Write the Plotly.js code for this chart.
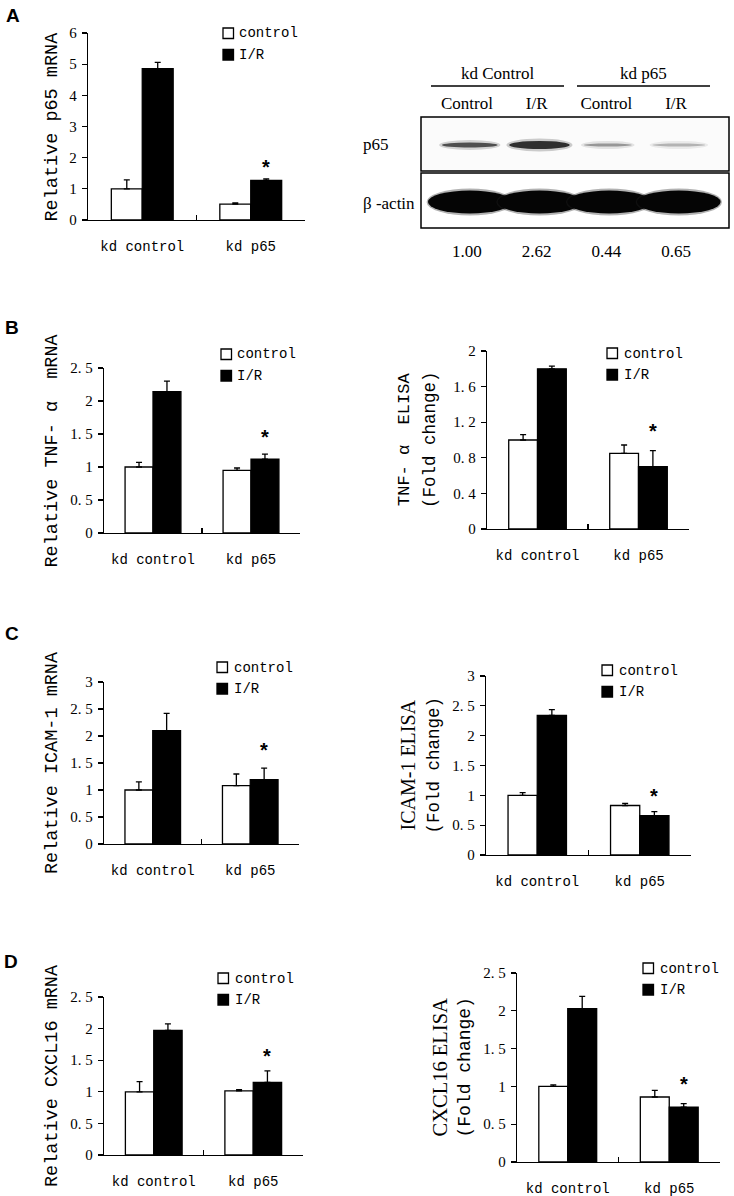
<!DOCTYPE html>
<html><head><meta charset="utf-8">
<script src="https://cdn.plot.ly/plotly-3.0.1.min.js"></script>
<style>html,body{margin:0;padding:0;background:#fff}#chart{width:734px;height:1196px}</style>
</head><body><div id="chart"></div>
<script>
// ---------------- DATA ----------------
const categories = ['kd control', 'kd p65'];
const seriesNames = ['control', 'I/R'];

// A: relative p65 mRNA
const p65mRNA_control = [1.00, 0.51];
const p65mRNA_controlErr = [0.29, 0.04];
const p65mRNA_IR = [4.86, 1.27];
const p65mRNA_IRErr = [0.20, 0.05];
const p65mRNA_star = 1.82;
const ticksA = [0, 1, 2, 3, 4, 5, 6];
const tickLabelsA = ['0', '1', '2', '3', '4', '5', '6'];

// B left: relative TNF-α mRNA
const tnfMRNA_control = [1.00, 0.95];
const tnfMRNA_controlErr = [0.07, 0.035];
const tnfMRNA_IR = [2.14, 1.12];
const tnfMRNA_IRErr = [0.16, 0.075];
const tnfMRNA_star = 1.52;
const ticksBL = [0, 0.5, 1, 1.5, 2, 2.5];
const tickLabelsBL = ['0', '0. 5', '1', '1. 5', '2', '2. 5'];

// B right: TNF-α ELISA
const tnfELISA_control = [1.00, 0.85];
const tnfELISA_controlErr = [0.06, 0.094];
const tnfELISA_IR = [1.80, 0.70];
const tnfELISA_IRErr = [0.03, 0.18];
const tnfELISA_star = 1.15;
const ticksBR = [0, 0.4, 0.8, 1.2, 1.6, 2];
const tickLabelsBR = ['0', '0. 4', '0. 8', '1. 2', '1. 6', '2'];

// C left: relative ICAM-1 mRNA
const icamMRNA_control = [1.00, 1.08];
const icamMRNA_controlErr = [0.15, 0.216];
const icamMRNA_IR = [2.10, 1.19];
const icamMRNA_IRErr = [0.32, 0.216];
const icamMRNA_star = 1.81;
const ticksCL = [0, 0.5, 1, 1.5, 2, 2.5, 3];
const tickLabelsCL = ['0', '0. 5', '1', '1. 5', '2', '2. 5', '3'];

// C right: ICAM-1 ELISA
const icamELISA_control = [1.00, 0.83];
const icamELISA_controlErr = [0.045, 0.034];
const icamELISA_IR = [2.34, 0.66];
const icamELISA_IRErr = [0.095, 0.067];
const icamELISA_star = 1.06;
const ticksCR = [0, 0.5, 1, 1.5, 2, 2.5, 3];
const tickLabelsCR = ['0', '0. 5', '1', '1. 5', '2', '2. 5', '3'];

// D left: relative CXCL16 mRNA
const cxclMRNA_control = [1.00, 1.015];
const cxclMRNA_controlErr = [0.16, 0.02];
const cxclMRNA_IR = [1.97, 1.15];
const cxclMRNA_IRErr = [0.105, 0.18];
const cxclMRNA_star = 1.63;
const ticksDL = [0, 0.5, 1, 1.5, 2, 2.5];
const tickLabelsDL = ['0', '0. 5', '1', '1. 5', '2', '2. 5'];

// D right: CXCL16 ELISA
const cxclELISA_control = [1.00, 0.86];
const cxclELISA_controlErr = [0.02, 0.088];
const cxclELISA_IR = [2.03, 0.727];
const cxclELISA_IRErr = [0.16, 0.044];
const cxclELISA_star = 1.08;
const ticksDR = [0, 0.5, 1, 1.5, 2, 2.5];
const tickLabelsDR = ['0', '0. 5', '1', '1. 5', '2', '2. 5'];

// Western blot (panel A right)
const blotGroups = ['kd Control', 'kd p65'];
const blotLanes = ['Control', 'I/R', 'Control', 'I/R'];
const blotRows = ['p65', 'β -actin'];
const p65Densitometry = [1.00, 2.62, 0.44, 0.65];

// ---------------- LAYOUT HELPERS ----------------
const W = 734, H = 1196;
const fx = p => p / W;
const fy = p => 1 - p / H;
const MONO = 'Liberation Mono, DejaVu Sans Mono, monospace';
const SERIF = 'Liberation Serif, DejaVu Serif, serif';
const SANS = 'Liberation Sans, Arial, sans-serif';
const BAR_W = 0.285;

const panels = [
  {box: [88, 305, 33, 220], ymax: 6, tv: ticksA, tt: tickLabelsA,
   c: p65mRNA_control, ce: p65mRNA_controlErr, r: p65mRNA_IR, re: p65mRNA_IRErr, star: p65mRNA_star,
   titles: [{text: 'Relative p65 mRNA', x: 52, family: MONO, size: 18.5}],
   leg: [223, 28, 237]},
  {box: [104, 300, 368, 533], ymax: 2.5, tv: ticksBL, tt: tickLabelsBL,
   c: tnfMRNA_control, ce: tnfMRNA_controlErr, r: tnfMRNA_IR, re: tnfMRNA_IRErr, star: tnfMRNA_star,
   titles: [{text: 'Relative TNF- α  mRNA', x: 52, family: MONO, size: 18.5}],
   leg: [221, 349, 235]},
  {box: [487, 689, 351, 529], ymax: 2, tv: ticksBR, tt: tickLabelsBR,
   c: tnfELISA_control, ce: tnfELISA_controlErr, r: tnfELISA_IR, re: tnfELISA_IRErr, star: tnfELISA_star,
   titles: [{text: 'TNF- α  ELISA', x: 404, family: MONO, size: 17},
            {text: '(Fold change)', x: 430, family: MONO, size: 17.5}],
   leg: [607, 348, 622]},
  {box: [104, 299, 682, 844], ymax: 3, tv: ticksCL, tt: tickLabelsCL,
   c: icamMRNA_control, ce: icamMRNA_controlErr, r: icamMRNA_IR, re: icamMRNA_IRErr, star: icamMRNA_star,
   titles: [{text: 'Relative ICAM-1 mRNA', x: 52, family: MONO, size: 18.5}],
   leg: [217, 662, 232]},
  {box: [486, 691, 676, 855], ymax: 3, tv: ticksCR, tt: tickLabelsCR,
   c: icamELISA_control, ce: icamELISA_controlErr, r: icamELISA_IR, re: icamELISA_IRErr, star: icamELISA_star,
   titles: [{text: 'ICAM-1 ELISA', x: 407, family: SERIF, size: 20},
            {text: '(Fold change)', x: 433, family: MONO, size: 17.5}],
   leg: [602, 665, 617]},
  {box: [104, 303, 997, 1155], ymax: 2.5, tv: ticksDL, tt: tickLabelsDL,
   c: cxclMRNA_control, ce: cxclMRNA_controlErr, r: cxclMRNA_IR, re: cxclMRNA_IRErr, star: cxclMRNA_star,
   titles: [{text: 'Relative CXCL16 mRNA', x: 52, family: MONO, size: 18.5}],
   leg: [218, 973, 233]},
  {box: [517, 720, 973, 1162], ymax: 2.5, tv: ticksDR, tt: tickLabelsDR,
   c: cxclELISA_control, ce: cxclELISA_controlErr, r: cxclELISA_IR, re: cxclELISA_IRErr, star: cxclELISA_star,
   titles: [{text: 'CXCL16 ELISA', x: 439, family: SERIF, size: 20.5},
            {text: '(Fold change)', x: 464, family: MONO, size: 18}],
   leg: [643, 963, 658]}
];

const traces = [];
const layout = {
  width: W, height: H,
  margin: {l: 0, r: 0, t: 0, b: 0},
  paper_bgcolor: '#fff', plot_bgcolor: 'rgba(0,0,0,0)',
  showlegend: false, barmode: 'overlay',
  annotations: [], shapes: [],
  font: {family: MONO, color: '#000'}
};

panels.forEach((p, i) => {
  const n = i + 1;
  const xs = n === 1 ? '' : String(n);
  const xref = 'x' + xs, yref = 'y' + xs;
  const [l, r, t, b] = p.box;
  const errStyle = {type: 'data', symmetric: false, color: '#000', thickness: 1.3, width: 3};
  traces.push({
    type: 'bar', name: seriesNames[0], x: categories, y: p.c, xaxis: xref, yaxis: yref,
    width: BAR_W, offset: -BAR_W,
    marker: {color: '#ffffff', line: {color: '#000', width: 1.3}},
    error_y: Object.assign({array: p.ce, arrayminus: p.ce.map(() => 0)}, errStyle),
    hoverinfo: 'y'
  });
  traces.push({
    type: 'bar', name: seriesNames[1], x: categories, y: p.r, xaxis: xref, yaxis: yref,
    width: BAR_W, offset: 0,
    marker: {color: '#000000', line: {color: '#000', width: 1.3}},
    error_y: Object.assign({array: p.re, arrayminus: p.re.map(() => 0)}, errStyle),
    hoverinfo: 'y'
  });
  layout['xaxis' + xs] = {
    domain: [fx(l), fx(r)], anchor: yref, type: 'category',
    categoryorder: 'array', categoryarray: categories, range: [-0.5, 1.5],
    showline: true, linecolor: '#000', linewidth: 1.3,
    ticks: 'inside', tickson: 'boundaries', ticklen: 5, tickwidth: 1.3, tickcolor: '#000',
    showgrid: false, zeroline: false,
    tickfont: {family: MONO, size: 14, color: '#000'}, ticklabelstandoff: 13, fixedrange: true
  };
  layout['yaxis' + xs] = {
    domain: [fy(b), fy(t)], anchor: xref, range: [0, p.ymax],
    tickmode: 'array', tickvals: p.tv, ticktext: p.tt,
    showline: true, linecolor: '#000', linewidth: 1.3,
    ticks: 'outside', ticklen: 5, tickwidth: 1.3, tickcolor: '#000',
    showgrid: false, zeroline: false,
    tickfont: {family: SERIF, size: 15, color: '#000'}, ticklabelstandoff: 2, fixedrange: true
  };
  // significance star over kd p65 I/R
  layout.annotations.push({
    xref: xref, yref: yref, x: 1 + BAR_W / 2, y: p.star, text: '<b>*</b>', showarrow: false,
    yanchor: 'middle', yshift: -4, font: {family: SANS, size: 20, color: '#000'}
  });
  // y-axis titles
  p.titles.forEach(tl => {
    layout.annotations.push({
      xref: 'paper', yref: 'paper', x: fx(tl.x), y: fy((t + b) / 2), text: tl.text,
      textangle: -90, showarrow: false, xanchor: 'center', yanchor: 'middle',
      font: {family: tl.family, size: tl.size, color: '#000'}
    });
  });
  // legend (square + label)
  const [lx, ly, tx] = p.leg;
  seriesNames.forEach((s, k) => {
    const y0 = ly + k * 21.5;
    layout.shapes.push({
      type: 'rect', xref: 'paper', yref: 'paper',
      x0: fx(lx), x1: fx(lx + 10.5), y0: fy(y0), y1: fy(y0 + 10.5),
      fillcolor: k === 0 ? '#fff' : '#000', line: {color: '#000', width: 1.3}
    });
    layout.annotations.push({
      xref: 'paper', yref: 'paper', x: fx(tx), y: fy(y0 + 5.5), text: s,
      showarrow: false, xanchor: 'left', yanchor: 'middle',
      font: {family: MONO, size: 14, color: '#000'}
    });
  });
});

// panel letters
[['A', 13, 16], ['B', 12, 327], ['C', 12, 633], ['D', 11, 961]].forEach(([txt, x, y]) => {
  layout.annotations.push({
    xref: 'paper', yref: 'paper', x: fx(x), y: fy(y), text: '<b>' + txt + '</b>',
    showarrow: false, xanchor: 'center', yanchor: 'middle',
    font: {family: SANS, size: 19, color: '#000'}
  });
});

// ---------------- WESTERN BLOT ----------------
const BL = 421, BR = 729, BT = 117, BB = 228; // blot frame (px)
const ZT = 60, ZB = 262;                        // blot subplot area (px), includes labels
layout.xaxis8 = {domain: [fx(BL), fx(BR)], range: [0.34, 4.76], visible: false, anchor: 'y8', fixedrange: true};
layout.yaxis8 = {domain: [fy(ZB), fy(ZT)], range: [0, ZB - ZT], visible: false, anchor: 'x8', fixedrange: true};
const laneIdx = blotLanes.map((_, i) => i + 1);
const yv = px => ZB - px;

// blot frames
layout.shapes.push({type: 'rect', xref: 'paper', yref: 'paper', x0: fx(BL), x1: fx(BR), y0: fy(171), y1: fy(BT),
  line: {color: '#000', width: 1.5}, fillcolor: '#fbfbfb', layer: 'below'});
layout.shapes.push({type: 'rect', xref: 'paper', yref: 'paper', x0: fx(BL), x1: fx(BR), y0: fy(BB), y1: fy(173),
  line: {color: '#000', width: 1.5}, fillcolor: '#ffffff', layer: 'below'});

// densitometry values under the blot
traces.push({
  type: 'scatter', mode: 'text', x: laneIdx, y: laneIdx.map(() => yv(253)),
  text: p65Densitometry.map(v => v.toFixed(2)), xaxis: 'x8', yaxis: 'y8', cliponaxis: false,
  textfont: {family: SERIF, size: 17, color: '#000'}, hoverinfo: 'skip'
});
// lane labels above the blot
traces.push({
  type: 'scatter', mode: 'text', x: laneIdx, y: laneIdx.map(() => yv(105)),
  text: blotLanes, xaxis: 'x8', yaxis: 'y8', cliponaxis: false,
  textfont: {family: SERIF, size: 17, color: '#000'}, hoverinfo: 'skip'
});
// group labels with underlines
[[431, 564], [577, 710]].forEach(([a, b], g) => {
  layout.shapes.push({type: 'line', xref: 'paper', yref: 'paper', x0: fx(a), x1: fx(b), y0: fy(86), y1: fy(86),
    line: {color: '#000', width: 1.6}});
  layout.annotations.push({xref: 'paper', yref: 'paper', x: fx((a + b) / 2), y: fy(73), text: blotGroups[g],
    showarrow: false, xanchor: 'center', yanchor: 'middle', font: {family: SERIF, size: 17, color: '#000'}});
});
// row labels
[[blotRows[0], 145], [blotRows[1], 203]].forEach(([txt, y]) => {
  layout.annotations.push({xref: 'paper', yref: 'paper', x: fx(361), y: fy(y), text: txt,
    showarrow: false, xanchor: 'left', yanchor: 'middle', font: {family: SERIF, size: 17, color: '#000'}});
});
// band shapes (p65 row, then actin row)
const p65Bands = [
  {w: 0.80, h: 5, col: '#404040'}, {w: 0.87, h: 8, col: '#1e1e1e'},
  {w: 0.69, h: 3, col: '#8e8e8e'}, {w: 0.76, h: 3, col: '#adadad'}
];
const p65Shift = [0.04, 0.04, 0.02, 0.04];
p65Bands.forEach((s, i) => {
  const cx = laneIdx[i] + p65Shift[i], cy = yv(145);
  layout.shapes.push({type: 'circle', xref: 'x8', yref: 'y8', x0: cx - s.w / 2 - 0.04, x1: cx + s.w / 2 + 0.04,
    y0: cy - s.h / 2 - 2.5, y1: cy + s.h / 2 + 2.5, fillcolor: s.col, opacity: 0.22, line: {width: 0}});
  layout.shapes.push({type: 'circle', xref: 'x8', yref: 'y8', x0: cx - s.w / 2, x1: cx + s.w / 2,
    y0: cy - s.h / 2, y1: cy + s.h / 2, fillcolor: s.col, opacity: 0.9, line: {width: 0}});
});
laneIdx.forEach(i => {
  const cx = i + 0.04, cy = yv(202);
  layout.shapes.push({type: 'circle', xref: 'x8', yref: 'y8', x0: cx - 0.62, x1: cx + 0.62,
    y0: cy - 13.5, y1: cy + 13.5, fillcolor: '#222', opacity: 0.35, line: {width: 0}});
  layout.shapes.push({type: 'circle', xref: 'x8', yref: 'y8', x0: cx - 0.6, x1: cx + 0.6,
    y0: cy - 11.5, y1: cy + 11.5, fillcolor: '#050505', line: {width: 0}});
});

Plotly.newPlot('chart', traces, layout, {staticPlot: true, displayModeBar: false});
</script></body></html>
